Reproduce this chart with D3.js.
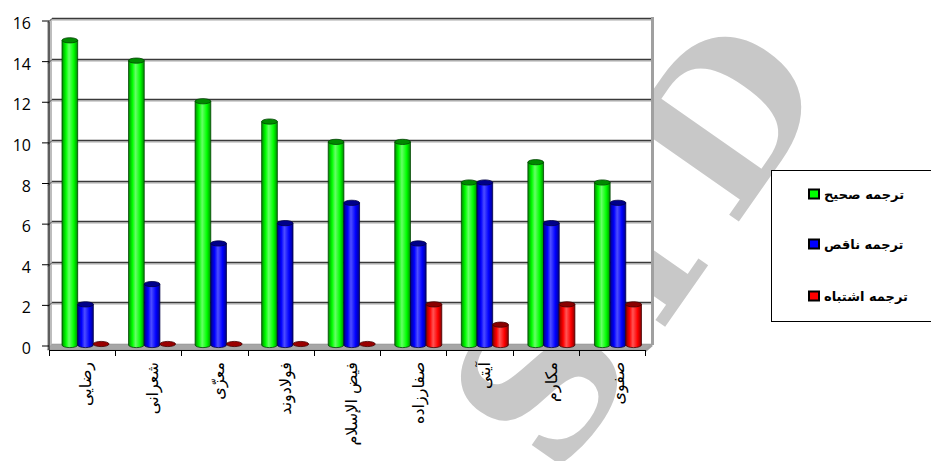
<!DOCTYPE html>
<meta charset="utf-8">
<title>Translation chart</title>
<style>
    body { margin: 0; background: #fff; }
    text { font-family: "Open Sans", "Liberation Sans", sans-serif; }
    .fa { font-family: "DejaVu Sans", sans-serif; }
    .wm { font-family: "DejaVu Serif", serif; font-weight: bold; }
</style>
<body>
<script src="https://d3js.org/d3.v7.min.js"></script>
<script>

    var translators = ["رضایی", "شعرانی", "معزّی", "فولادوند", "فیض الإسلام", "صفارزاده", "آیتی", "مکارم", "صفوی"];
    var seriesNames = ["ترجمه صحیح", "ترجمه ناقص", "ترجمه اشتباه"];
    var correct   = [15, 14, 12, 11, 10, 10, 8, 9, 8];
    var partial   = [2, 3, 5, 6, 7, 5, 8, 6, 7];
    var wrong     = [0, 0, 0, 0, 0, 2, 1, 2, 2];
    var yTicks    = [0, 2, 4, 6, 8, 10, 12, 14, 16];

    var colors = [
        { base: "#00ff00", dark: "#008a00", light: "#66ff66", line: "#004400" },
        { base: "#0000ff", dark: "#00008a", light: "#4d4dff", line: "#000044" },
        { base: "#ff0000", dark: "#8a0000", light: "#ff5555", line: "#440000" }
    ];
    var series = [correct, partial, wrong];

    var w = 931, h = 461;

    var svg = d3.select("body").append("svg")
        .attr("width", w)
        .attr("height", h);

    // watermark sits behind everything
    svg.append("text")
        .attr("class", "wm")
        .attr("transform", "translate(705,270)rotate(-55)")
        .attr("text-anchor", "middle")
        .style("font-size", "200px")
        .style("letter-spacing", "35px")
        .style("fill", "#c8c8c8")
        .text("SID");

    var y = d3.scaleLinear().domain([0, 16]).range([345, 20]);
    var x0 = d3.scaleBand().domain(translators).range([50, 649]);
    var x1 = d3.scaleBand().domain([0, 1, 2]).range([12, 59]);
    var xFront = d3.scaleBand().domain(translators).range([49, 645]);

    var defs = svg.append("defs");
    colors.forEach(function(c, i) {
        var g = defs.append("linearGradient").attr("id", "cyl" + i);
        g.append("stop").attr("offset", "0%").attr("stop-color", c.dark);
        g.append("stop").attr("offset", "25%").attr("stop-color", c.base);
        g.append("stop").attr("offset", "45%").attr("stop-color", c.light);
        g.append("stop").attr("offset", "75%").attr("stop-color", c.base);
        g.append("stop").attr("offset", "100%").attr("stop-color", c.dark);
    });

    // back wall
    svg.append("rect")
        .attr("x", 52).attr("y", 18)
        .attr("width", 600).attr("height", 327)
        .style("fill", "#fff");

    // left side wall
    svg.append("path")
        .attr("d", "M47,22L52,18L52,344L47,350Z")
        .style("fill", "#bdbdbd");

    // floor
    svg.append("path")
        .attr("d", "M47,350L52,344L652,344L645,350Z")
        .style("fill", "#a6a6a6")
        .style("stroke", "#888")
        .style("stroke-width", 0.5);

    // gridlines
    var grid = svg.append("g");
    yTicks.filter(function(d) { return d > 0; }).forEach(function(d) {
        var yy = Math.round(y(d)) - 1.5;
        grid.append("line")
            .attr("x1", 52).attr("x2", 652)
            .attr("y1", yy + 1.5).attr("y2", yy + 1.5)
            .style("stroke", "#c4c4c4").style("stroke-width", 1.5);
        grid.append("line")
            .attr("x1", 52).attr("x2", 652)
            .attr("y1", yy).attr("y2", yy)
            .style("stroke", "#3a3a3a").style("stroke-width", 1.5);
        grid.append("line")
            .attr("x1", 48).attr("x2", 52)
            .attr("y1", yy + 4).attr("y2", yy)
            .style("stroke", "#4a4a4a").style("stroke-width", 1);
    });

    // right wall edge
    svg.append("line")
        .attr("x1", 652.5).attr("x2", 652.5).attr("y1", 17).attr("y2", 345)
        .style("stroke", "#a0a0a0").style("stroke-width", 3);
    svg.append("line")
        .attr("x1", 652).attr("x2", 645).attr("y1", 345).attr("y2", 351)
        .style("stroke", "#a0a0a0").style("stroke-width", 2.5);

    // cylinders
    var ry = 2.6;
    var groups = svg.append("g").selectAll("g")
        .data(translators)
        .enter().append("g")
        .attr("transform", function(d) { return "translate(" + x0(d) + ",0)"; });

    groups.each(function(name, ci) {
        var g = d3.select(this);
        series.forEach(function(vals, si) {
            var v = vals[ci];
            var bx = x1(si), bw = x1.bandwidth();
            var top = y(v), base = y(0);
            var c = colors[si];
            if (v > 0) {
                g.append("path")
                    .attr("d", "M" + bx + "," + top + "L" + bx + "," + base +
                        "A" + bw / 2 + "," + ry + " 0 0 0 " + (bx + bw) + "," + base +
                        "L" + (bx + bw) + "," + top + "Z")
                    .style("fill", "url(#cyl" + si + ")")
                    .style("stroke", c.line).style("stroke-width", 0.8);
            }
            g.append("ellipse")
                .attr("cx", bx + bw / 2).attr("cy", v > 0 ? top : base - 1)
                .attr("rx", bw / 2).attr("ry", ry)
                .style("fill", v > 0 ? c.dark : "#9a0000")
                .style("stroke", c.line).style("stroke-width", 0.8);
        });
    });

    // y axis
    svg.append("line")
        .attr("x1", 49).attr("x2", 49).attr("y1", y(16) + 2).attr("y2", 350)
        .style("stroke", "#000");
    var ya = svg.append("g");
    yTicks.forEach(function(d) {
        var yy = y(d) + 1;
        ya.append("line")
            .attr("x1", 42).attr("x2", 49).attr("y1", yy).attr("y2", yy)
            .style("stroke", "#000");
        ya.append("text")
            .attr("x", 31).attr("y", yy + 3)
            .attr("dy", "0.32em")
            .attr("text-anchor", "end")
            .style("font-size", "16px")
            .text(d);
    });

    // x axis
    svg.append("line")
        .attr("x1", 49).attr("x2", 645).attr("y1", 350.5).attr("y2", 350.5)
        .style("stroke", "#000");
    xFront.domain().concat([null]).forEach(function(d, i) {
        var xx = Math.round(d === null ? 645 : xFront(d)) + 0.5;
        svg.append("line")
            .attr("x1", xx).attr("x2", xx).attr("y1", 350).attr("y2", 356)
            .style("stroke", "#000");
    });

    svg.append("g").selectAll("text")
        .data(translators)
        .enter().append("text")
        .attr("class", "fa")
        .attr("transform", function(d) {
            return "translate(" + (x0(d) + 35.5) + ",362)rotate(-90)";
        })
        .attr("text-anchor", "end")
        .attr("dy", "0.35em")
        .style("font-size", "16px")
        .text(function(d) { return d; });

    // legend
    svg.append("rect")
        .attr("x", 771.5).attr("y", 170.5)
        .attr("width", 170).attr("height", 151)
        .style("fill", "#fff")
        .style("stroke", "#000");

    var legendY = [194, 244, 296];
    seriesNames.forEach(function(name, i) {
        svg.append("rect")
            .attr("x", 809).attr("y", legendY[i] - 4.5)
            .attr("width", 10).attr("height", 9)
            .style("fill", colors[i].base)
            .style("stroke", "#000").style("stroke-width", 2);
        svg.append("text")
            .attr("class", "fa")
            .attr("x", 824).attr("y", legendY[i])
            .attr("dy", "0.35em")
            .style("font-size", "13px")
            .style("font-weight", "bold")
            .text(name);
    });

</script>
